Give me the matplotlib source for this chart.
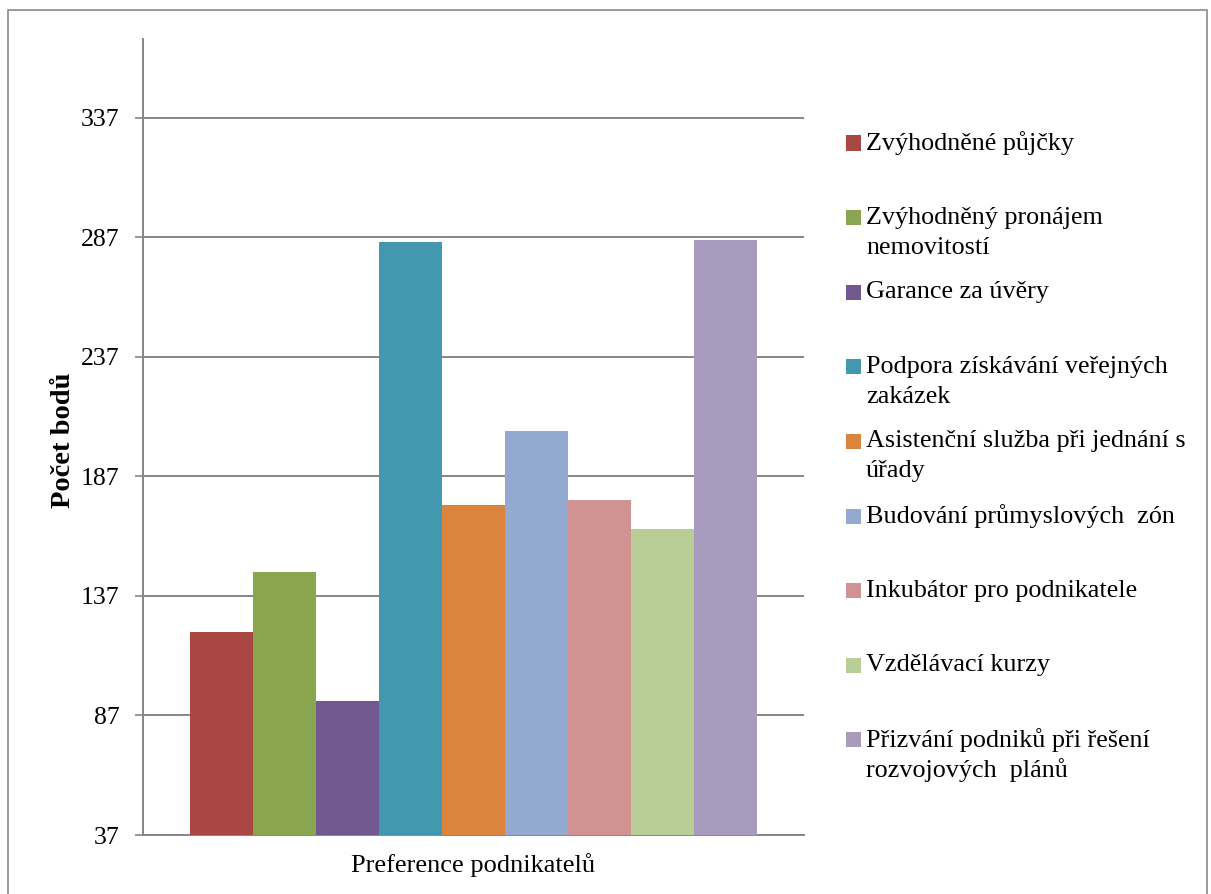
import matplotlib
matplotlib.use("Agg")
import matplotlib.pyplot as plt
from matplotlib.patches import Rectangle
import numpy as np

categories = ["Zvýhodněné půjčky",
              "Zvýhodněný pronájem\nnemovitostí",
              "Garance za úvěry",
              "Podpora získávání veřejných\nzakázek",
              "Asistenční služba při jednání s\núřady",
              "Budování průmyslových  zón",
              "Inkubátor pro podnikatele",
              "Vzdělávací kurzy",
              "Přizvání podniků při řešení\nrozvojových  plánů"]
values = [122, 147, 93, 285, 175, 206, 177, 165, 286]
colors = ["#AA4643", "#89A54E", "#71588F", "#4198AF", "#DB843D",
          "#93A9CF", "#D19392", "#B9CD96", "#A99BBD"]
yticks = [37, 87, 137, 187, 237, 287, 337]
group_label = "Preference podnikatelů"
ylabel = "Počet bodů"

plt.rcParams['font.family'] = ['Liberation Serif', 'DejaVu Serif']

W, H = 1211, 894
fig = plt.figure(figsize=(W / 100, H / 100), dpi=100)

# outer frame
fig.patches.append(Rectangle((8 / W, -0.05), (1207 - 8) / W, (H - 10) / H + 0.05,
                             transform=fig.transFigure, fill=False,
                             edgecolor="#8a8a8a", linewidth=1.2))

ax = fig.add_axes([143 / W, (H - 835) / H, (804 - 143) / W, (835 - 39) / H])
n = len(values)
x = np.arange(n) - (n - 1) / 2
ax.bar(x, np.array(values) - yticks[0], bottom=yticks[0], width=1.0,
       color=colors, zorder=3)
ax.set_xlim(-5.25, 5.25)
ax.set_ylim(37, 370)
ax.set_yticks(yticks)
ax.set_yticklabels([str(v) for v in yticks], fontsize=18.5)
ax.set_xticks([0])
ax.set_xticklabels([group_label], fontsize=19)
ax.tick_params(axis='x', length=0, pad=13)
ax.tick_params(axis='y', length=6, width=1.2, color="#868686", pad=11)
ax.grid(axis='y', color="#868686", linewidth=1.4, zorder=0)
for s in ['top', 'right']:
    ax.spines[s].set_visible(False)
for s in ['left', 'bottom']:
    ax.spines[s].set_color("#868686")
    ax.spines[s].set_linewidth(1.4)
ax.set_ylabel(ylabel, fontsize=20.5, fontweight='bold')
ax.yaxis.set_label_coords(-0.101, 0.496)

# legend drawn manually
y0, dy = 143, 74.6
for i, (lab, c) in enumerate(zip(categories, colors)):
    yc = y0 + i * dy
    fig.patches.append(Rectangle((846 / W, 1 - (yc + 7.5) / H), 15 / W, 15 / H,
                                 transform=fig.transFigure, facecolor=c,
                                 edgecolor='none'))
    lines = lab.split("\n")
    for j, ln in enumerate(lines):
        fig.text(866 / W, 1 - (yc + j * 30) / H, ln, fontsize=18.8,
                 va='center', ha='left')

fig.savefig("out.png", dpi=100)
